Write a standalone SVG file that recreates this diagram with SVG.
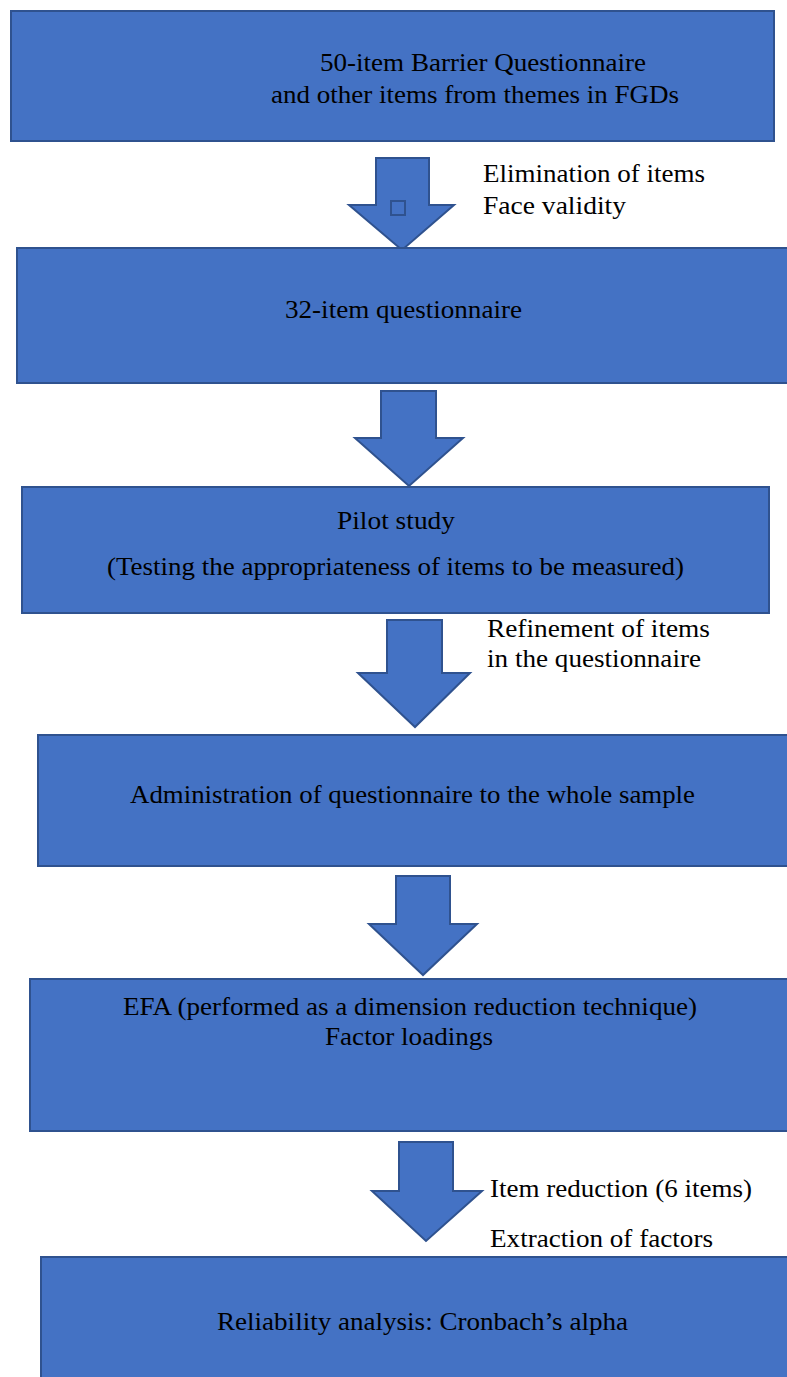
<svg xmlns="http://www.w3.org/2000/svg" width="787" height="1377" viewBox="0 0 787 1377">
  <style>
    .box { fill: #4472C4; stroke: #2F528F; stroke-width: 2; }
    .arrow { fill: #4472C4; stroke: #2F528F; stroke-width: 2; stroke-linejoin: miter; }
    .t { font-family: "Liberation Serif", "Times New Roman", Times, serif; font-size: 25px; fill: #000000; }
  </style>
  <rect x="0" y="0" width="787" height="1377" fill="#FFFFFF"/>

  <!-- step arrows between boxes -->
  <g id="connectors">
    <polygon class="arrow" points="376,158 429,158 429,205 454,205 402,250 349,205 376,205"/>
    <rect class="arrow" x="391" y="201" width="14" height="14" fill="none"/>
    <polygon class="arrow" points="381,391 436,391 436,438 463,438 409,486 355,438 381,438"/>
    <polygon class="arrow" points="387,620 442,620 442,673 470,673 415,727 358,673 387,673"/>
    <polygon class="arrow" points="396,876 450,876 450,924 477,924 423,975 369,924 396,924"/>
    <polygon class="arrow" points="399,1142 453,1142 453,1191 482,1191 426,1241 372,1191 399,1191"/>
  </g>

  <g id="node-barrier">
    <rect class="box" x="11" y="11" width="763" height="130"/>
    <text class="t" x="320" y="71" textLength="326" lengthAdjust="spacingAndGlyphs">50-item Barrier Questionnaire</text>
    <text class="t" x="271" y="103" textLength="408" lengthAdjust="spacingAndGlyphs">and other items from themes in  FGDs</text>
  </g>

  <g id="label-elimination">
    <text class="t" x="483" y="182" textLength="222" lengthAdjust="spacingAndGlyphs">Elimination of items</text>
    <text class="t" x="483" y="214" textLength="143" lengthAdjust="spacingAndGlyphs">Face validity</text>
  </g>

  <g id="node-32item">
    <rect class="box" x="17" y="248" width="775" height="135"/>
    <text class="t" x="285" y="318" textLength="237" lengthAdjust="spacingAndGlyphs">32-item questionnaire</text>
  </g>

  <g id="node-pilot">
    <rect class="box" x="22" y="487" width="747" height="126"/>
    <text class="t" x="337" y="529" textLength="118" lengthAdjust="spacingAndGlyphs">Pilot study</text>
    <text class="t" x="107" y="575" textLength="577" lengthAdjust="spacingAndGlyphs">(Testing the appropriateness of items to be measured)</text>
  </g>

  <g id="label-refinement">
    <text class="t" x="487" y="637" textLength="223" lengthAdjust="spacingAndGlyphs">Refinement of items</text>
    <text class="t" x="487" y="667" textLength="214" lengthAdjust="spacingAndGlyphs">in the questionnaire</text>
  </g>

  <g id="node-administration">
    <rect class="box" x="38" y="735" width="754" height="131"/>
    <text class="t" x="130" y="803" textLength="565" lengthAdjust="spacingAndGlyphs">Administration of questionnaire to the whole sample</text>
  </g>

  <g id="node-efa">
    <rect class="box" x="30" y="979" width="762" height="152"/>
    <text class="t" x="123" y="1015" textLength="574" lengthAdjust="spacingAndGlyphs">EFA (performed as a dimension reduction technique)</text>
    <text class="t" x="325" y="1045" textLength="168" lengthAdjust="spacingAndGlyphs">Factor loadings</text>
  </g>

  <g id="label-reduction">
    <text class="t" x="490" y="1197" textLength="262" lengthAdjust="spacingAndGlyphs">Item reduction (6 items)</text>
    <text class="t" x="490" y="1247" textLength="223" lengthAdjust="spacingAndGlyphs">Extraction of factors</text>
  </g>

  <g id="node-reliability">
    <rect class="box" x="41" y="1257" width="751" height="130"/>
    <text class="t" x="217" y="1330" textLength="411" lengthAdjust="spacingAndGlyphs">Reliability analysis: Cronbach’s alpha</text>
  </g>
</svg>
